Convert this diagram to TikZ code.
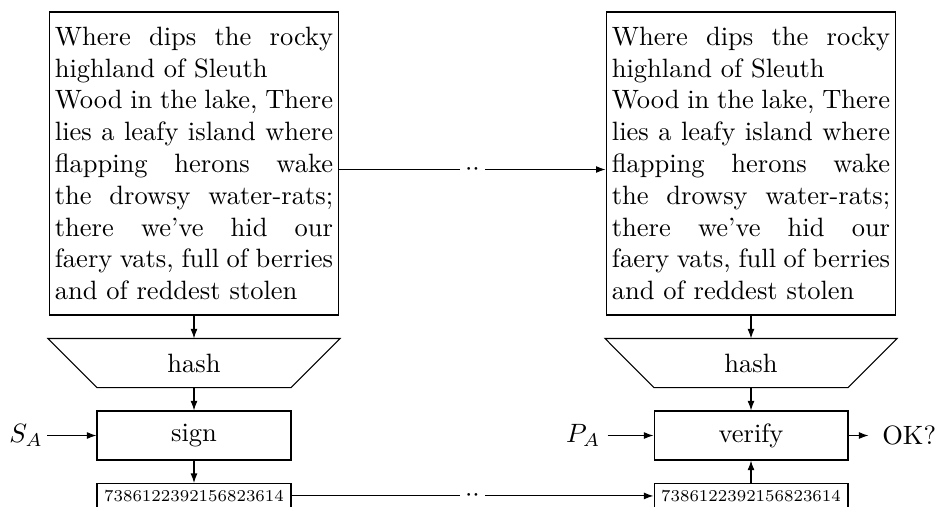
\documentclass[tikz,border=0pt]{standalone}
\usepackage{graphicx}
\usetikzlibrary{arrows.meta,calc}
\begin{document}
\begin{tikzpicture}[x=0.3774pt, y=-0.3774pt,
  >={Latex[length=3.6pt,width=2.6pt]},
  txtbox/.style={draw, text width=105pt, align=justify, inner xsep=2.2pt, minimum height=114.35pt},
  hashbox/.style={minimum width=72.84pt, minimum height=18.12pt, inner sep=0pt},
  opbox/.style={draw, minimum width=73.2pt, minimum height=18.5pt, inner sep=0pt},
  numbox/.style={draw, minimum width=73.2pt, inner xsep=0pt, inner ysep=2.5pt, font=\fontsize{6.5}{7}\selectfont},
  gapdots/.style={fill=white, inner sep=1.9pt}]
\useasboundingbox (0,0) rectangle (941,506);
\node[txtbox] (L) at (194,163.5) {Where dips the rocky\linebreak highland of Sleuth\newline Wood in the lake, There\linebreak lies a leafy island where\linebreak flapping herons wake\linebreak the drowsy water-rats;\linebreak there we’ve hid our\linebreak faery vats, full of berries\linebreak and of reddest stolen};
\node[txtbox] (R) at (751,163.5) {Where dips the rocky\linebreak highland of Sleuth\newline Wood in the lake, There\linebreak lies a leafy island where\linebreak flapping herons wake\linebreak the drowsy water-rats;\linebreak there we’ve hid our\linebreak faery vats, full of berries\linebreak and of reddest stolen};
\node[hashbox] (hashL) at (194,363) {hash};
\node[hashbox] (hashR) at (751,363) {hash};
\draw ($(hashL.north west)+(-49,0)$) -- ($(hashL.north east)+(49,0)$) -- (hashL.south east) -- (hashL.south west) -- cycle;
\draw ($(hashR.north west)+(-49,0)$) -- ($(hashR.north east)+(49,0)$) -- (hashR.south east) -- (hashR.south west) -- cycle;
\node[opbox] (sign) at (194,435.5) {sign};
\node[opbox] (verify) at (751,435.5) {verify};
\node[numbox, anchor=north] (numL) at (194,483) {\scalebox{0.965}{7386122392156823614}};
\node[numbox, anchor=north] (numR) at (751,483) {\scalebox{0.965}{7386122392156823614}};
\node[anchor=east, inner sep=1.5pt] (SA) at ($(sign.west)+(-49,0)$) {$S_A$};
\node[anchor=east, inner sep=2.5pt] (PA) at ($(verify.west)+(-46,0)$) {$P_A$};
\node[anchor=west, inner xsep=5pt] (OK) at ($(verify.east)+(20,0)$) {OK?};
\draw[->] (L.south) -- (hashL.north);
\draw[->] (R.south) -- (hashR.north);
\draw[->] (hashL.south) -- (sign.north);
\draw[->] (hashR.south) -- (verify.north);
\draw[->] (sign.south) -- (numL.north);
\draw[->] (numR.north) -- (verify.south);
\draw[->] (SA.east) -- (sign.west);
\draw[->] (PA.east) -- (verify.west);
\draw[->] (verify.east) -- (OK.west);
\draw[->] ([yshift=-2.26pt]L.east) -- node[gapdots] {$\cdot\cdot$} ([yshift=-2.26pt]R.west);
\draw[->] (numL.east) -- node[gapdots] {$\cdot\cdot$} (numR.west);
\end{tikzpicture}
\end{document}
